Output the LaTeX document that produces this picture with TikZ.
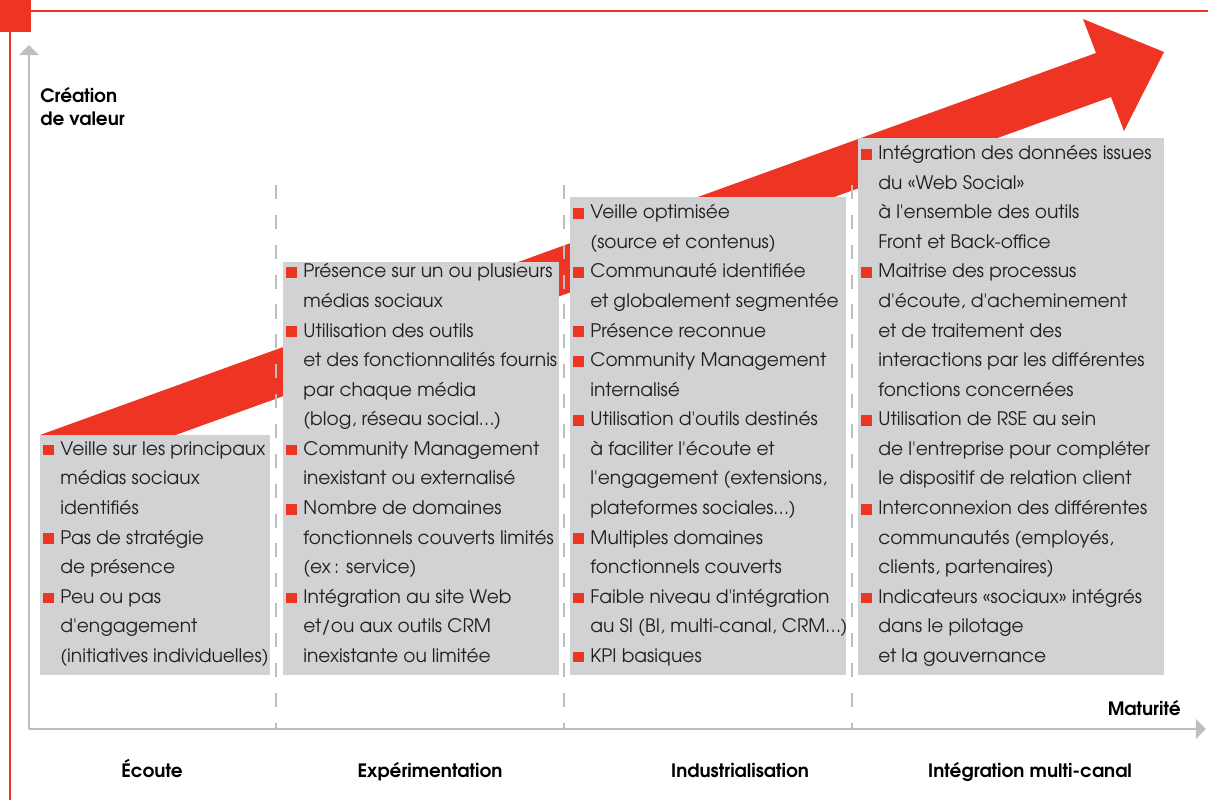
\documentclass[tikz,border=0pt]{standalone}
\usepackage{fontspec}
\newfontfamily\gothic{texgyreadventor}[Extension=.otf, UprightFont=*-regular, BoldFont=*-bold]
\usetikzlibrary{arrows.meta}

\definecolor{brandred}{RGB}{238,53,36}
\definecolor{panelgray}{RGB}{209,210,212}
\definecolor{axisgray}{RGB}{188,190,192}
\definecolor{ink}{RGB}{35,31,32}

\newcommand{\bul}{\makebox[9.7pt][l]{\textcolor{brandred}{\rule{6.1pt}{6.1pt}}}}

\tikzset{
  panel/.style={fill=panelgray},
  items/.style={anchor=base west, inner sep=0pt, text=ink,
    font=\gothic\fontsize{10.6}{16.84}\selectfont},
  phase/.style={anchor=base, inner sep=0pt, text=black,
    font=\gothic\bfseries\fontsize{10.5}{12.6}\selectfont},
  axis/.style={axisgray, line width=1.1pt, -{Triangle[width=11pt,length=5.7pt]}},
  sep/.style={axisgray, line width=0.9pt, dash pattern=on 8pt off 9pt},
}

\begin{document}
\begin{tikzpicture}[x=0.02cm,y=-0.02cm]
    \useasboundingbox (0,0) rectangle (1208,800);
    \pgfmathsetmacro{\bot}{675}
    \pgfmathsetmacro{\last}{662.5}
    % Draw the frame
    \fill [brandred] (0,0) rectangle (31,32);
    \draw [brandred, line width=1pt] (10,800) -- (10,11) -- (1208,11);

    % Draw the big arrow
    \fill [brandred] (40,435) -- (1096,53) -- (1083,19) -- (1164,52) --
        (1124,131) -- (1111,97) -- (40,484) -- cycle;

    % Draw the axes
    \coordinate (o) at (29,729);
    \coordinate (ytip) at (29,45);
    \coordinate (xtip) at (1206,729);
    \draw [axis] (o) -- (ytip);
    \draw [axis] (o) -- (xtip);
    \node [phase, anchor=base west] (valeur) at (40,103)
        {\begin{tabular}[t]{@{}l@{}}Création\\de valeur\end{tabular}};
    \node [phase, anchor=base east] (maturite) at (1181,715) {Maturité};

    % Draw the phase separators
    \foreach \x in {276,564,852}
        \draw [sep] (\x,185) -- (\x,728);

    % Draw the panels
    \fill [panel] (40,435) rectangle (270,\bot);
    \fill [panel] (283,262) rectangle (559,\bot);
    \fill [panel] (570,197) rectangle (846,\bot);
    \fill [panel] (858,138) rectangle (1164,\bot);

    \node [items] (ecoute-items) at (43,\last) {\begin{tabular}[b]{@{}l@{}l@{}}
        \bul & Veille sur les principaux\\
             & médias sociaux\\
             & identifiés\\
        \bul & Pas de stratégie\\
             & de présence\\
        \bul & Peu ou pas\\
             & d'engagement\\
             & (initiatives individuelles)
        \end{tabular}};
    \node [items] (exp-items) at (286,\last) {\begin{tabular}[b]{@{}l@{}l@{}}
        \bul & Présence sur un ou plusieurs\\
             & médias sociaux\\
        \bul & Utilisation des outils\\
             & et des fonctionnalités fournis\\
             & par chaque média\\
             & (blog, réseau social…)\\
        \bul & Community Management\\
             & inexistant ou externalisé\\
        \bul & Nombre de domaines\\
             & fonctionnels couverts limités\\
             & (ex\,: service)\\
        \bul & Intégration au site Web\\
             & et/ou aux outils CRM\\
             & inexistante ou limitée
        \end{tabular}};
    \node [items] (indus-items) at (573,\last) {\begin{tabular}[b]{@{}l@{}l@{}}
        \bul & Veille optimisée\\
             & (source et contenus)\\
        \bul & Communauté identifiée\\
             & et globalement segmentée\\
        \bul & Présence reconnue\\
        \bul & Community Management\\
             & internalisé\\
        \bul & Utilisation d'outils destinés\\
             & à faciliter l'écoute et\\
             & l'engagement (extensions,\\
             & plateformes sociales…)\\
        \bul & Multiples domaines\\
             & fonctionnels couverts\\
        \bul & Faible niveau d'intégration\\
             & au SI (BI, multi-canal, CRM…)\\
        \bul & KPI basiques
        \end{tabular}};
    \node [items] (multi-items) at (861,\last) {\begin{tabular}[b]{@{}l@{}l@{}}
        \bul & Intégration des données issues\\
             & du «Web Social»\\
             & à l'ensemble des outils\\
             & Front et Back-office\\
        \bul & Maitrise des processus\\
             & d'écoute, d'acheminement\\
             & et de traitement des\\
             & interactions par les différentes\\
             & fonctions concernées\\
        \bul & Utilisation de RSE au sein\\
             & de l'entreprise pour compléter\\
             & le dispositif de relation client\\
        \bul & Interconnexion des différentes\\
             & communautés (employés,\\
             & clients, partenaires)\\
        \bul & Indicateurs «sociaux» intégrés\\
             & dans le pilotage\\
             & et la gouvernance
        \end{tabular}};

    % Phase names
    \node [phase] (ecoute) at (152,777) {Écoute};
    \node [phase] (experimentation) at (430,777) {Expérimentation};
    \node [phase] (industrialisation) at (740,777) {Industrialisation};
    \node [phase] (multicanal) at (1030,777) {Intégration multi-canal};

\end{tikzpicture}
\end{document}
